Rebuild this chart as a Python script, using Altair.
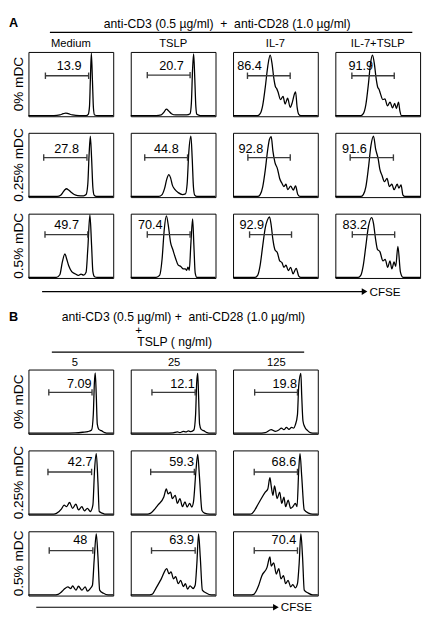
import math
import altair as alt
import pandas as pd

FONT = "Liberation Sans, Arial, sans-serif"
PW, PH = 87, 66
NB = "\u00a0"

# ---------------- text ----------------
TITLE_A = "anti-CD3 (0.5 µg/ml)" + NB + " +" + NB + " anti-CD28 (1.0 µg/ml)"
TITLE_B1 = "anti-CD3 (0.5 µg/ml) +" + NB + " anti-CD28 (1.0 µg/ml)"
TITLE_B2 = "+"
TITLE_B3 = "TSLP ( ng/ml)"
A_COLS = ["Medium", "TSLP", "IL-7", "IL-7+TSLP"]
B_COLS = ["5", "25", "125"]
ROW_LABELS = ["0% mDC", "0.25% mDC", "0.5% mDC"]
AXIS_NAME = "CFSE"

# ---------------- histograms (CFSE fraction of axis, relative count) ----------------
A0_MEDIUM = [(0, 0.01), (0.30, 0.01), (0.37, 0.02), (0.41, 0.04), (0.44, 0.05), (0.47, 0.04), (0.52, 0.02),
             (0.60, 0.01), (0.68, 0.01), (0.705, 0.03), (0.72, 0.15), (0.73, 0.55), (0.742, 0.98),
             (0.755, 0.55), (0.767, 0.12), (0.78, 0.02), (0.82, 0.01), (1, 0.01)]
A0_TSLP = [(0, 0.01), (0.30, 0.01), (0.36, 0.02), (0.39, 0.06), (0.42, 0.11), (0.45, 0.08), (0.48, 0.04),
           (0.53, 0.02), (0.66, 0.02), (0.70, 0.04), (0.715, 0.2), (0.73, 0.75), (0.742, 0.97),
           (0.755, 0.6), (0.768, 0.15), (0.78, 0.03), (0.82, 0.01), (1, 0.01)]
A0_IL7 = [(0, 0.01), (0.29, 0.01), (0.32, 0.04), (0.35, 0.17), (0.38, 0.45), (0.41, 0.78), (0.438, 0.95),
          (0.46, 0.82), (0.48, 0.6), (0.50, 0.46), (0.515, 0.43), (0.53, 0.38), (0.56, 0.26), (0.59, 0.31),
          (0.614, 0.19), (0.644, 0.28), (0.674, 0.14), (0.70, 0.22), (0.725, 0.35), (0.738, 0.38),
          (0.755, 0.15), (0.775, 0.03), (0.80, 0.01), (1, 0.01)]
A0_IL7TSLP = [(0, 0.01), (0.30, 0.01), (0.33, 0.04), (0.36, 0.18), (0.39, 0.5), (0.415, 0.82), (0.438, 0.95),
              (0.46, 0.82), (0.48, 0.6), (0.50, 0.45), (0.515, 0.42), (0.53, 0.36), (0.56, 0.26),
              (0.585, 0.27), (0.615, 0.16), (0.645, 0.22), (0.675, 0.13), (0.70, 0.20), (0.72, 0.12),
              (0.745, 0.22), (0.762, 0.08), (0.78, 0.01), (1, 0.01)]

A1_MEDIUM = [(0, 0.01), (0.34, 0.01), (0.38, 0.03), (0.41, 0.08), (0.43, 0.115), (0.45, 0.13), (0.47, 0.115),
             (0.50, 0.08), (0.54, 0.04), (0.58, 0.025), (0.65, 0.02), (0.68, 0.04), (0.70, 0.2),
             (0.715, 0.65), (0.73, 0.95), (0.745, 0.6), (0.76, 0.15), (0.775, 0.03), (0.80, 0.01), (1, 0.01)]
A1_TSLP = [(0, 0.01), (0.33, 0.01), (0.37, 0.04), (0.40, 0.14), (0.425, 0.28), (0.45, 0.35), (0.47, 0.30),
           (0.49, 0.19), (0.52, 0.12), (0.56, 0.07), (0.61, 0.04), (0.645, 0.05), (0.665, 0.2),
           (0.685, 0.7), (0.71, 0.95), (0.725, 0.6), (0.74, 0.15), (0.755, 0.03), (0.78, 0.01), (1, 0.01)]
A1_IL7 = [(0, 0.01), (0.29, 0.01), (0.32, 0.04), (0.35, 0.16), (0.38, 0.42), (0.41, 0.75), (0.43, 0.9),
          (0.45, 0.94), (0.47, 0.72), (0.494, 0.54), (0.524, 0.44), (0.55, 0.29), (0.577, 0.215),
          (0.60, 0.165), (0.625, 0.2), (0.644, 0.115), (0.68, 0.17), (0.71, 0.11), (0.738, 0.175),
          (0.764, 0.04), (0.79, 0.01), (1, 0.01)]
A1_IL7TSLP = [(0, 0.01), (0.30, 0.01), (0.33, 0.04), (0.36, 0.16), (0.39, 0.45), (0.42, 0.8), (0.45, 0.95),
              (0.475, 0.75), (0.506, 0.59), (0.524, 0.44), (0.55, 0.34), (0.58, 0.24), (0.61, 0.29),
              (0.637, 0.165), (0.667, 0.2), (0.693, 0.115), (0.73, 0.2), (0.749, 0.14), (0.775, 0.19),
              (0.798, 0.03), (0.82, 0.01), (1, 0.01)]

A2_MEDIUM = [(0, 0.01), (0.33, 0.01), (0.37, 0.05), (0.40, 0.25), (0.43, 0.375), (0.45, 0.30), (0.475, 0.19),
             (0.51, 0.10), (0.55, 0.065), (0.59, 0.04), (0.62, 0.06), (0.65, 0.045), (0.68, 0.09),
             (0.70, 0.45), (0.725, 0.98), (0.745, 0.5), (0.76, 0.1), (0.78, 0.02), (0.81, 0.01), (1, 0.01)]
A2_TSLP = [(0, 0.01), (0.30, 0.01), (0.34, 0.04), (0.37, 0.3), (0.395, 0.75), (0.42, 0.965), (0.445, 0.8),
           (0.47, 0.55), (0.494, 0.45), (0.53, 0.3), (0.56, 0.2), (0.59, 0.18), (0.62, 0.14), (0.644, 0.14),
           (0.66, 0.12), (0.675, 0.17), (0.69, 0.12), (0.71, 0.55), (0.73, 0.92), (0.745, 0.5),
           (0.76, 0.08), (0.78, 0.01), (1, 0.01)]
A2_IL7 = [(0, 0.01), (0.26, 0.01), (0.29, 0.04), (0.32, 0.2), (0.35, 0.5), (0.38, 0.78), (0.405, 0.9),
          (0.43, 0.95), (0.45, 0.82), (0.47, 0.6), (0.494, 0.44), (0.524, 0.39), (0.55, 0.265),
          (0.577, 0.24), (0.60, 0.165), (0.625, 0.2), (0.652, 0.115), (0.68, 0.165), (0.708, 0.065),
          (0.745, 0.15), (0.775, 0.03), (0.80, 0.01), (1, 0.01)]
A2_IL7TSLP = [(0, 0.01), (0.27, 0.01), (0.30, 0.04), (0.33, 0.2), (0.36, 0.5), (0.39, 0.8), (0.43, 0.94),
              (0.45, 0.85), (0.475, 0.6), (0.498, 0.44), (0.524, 0.415), (0.562, 0.265), (0.588, 0.29),
              (0.618, 0.165), (0.644, 0.265), (0.667, 0.14), (0.693, 0.25), (0.712, 0.18), (0.738, 0.49),
              (0.768, 0.09), (0.798, 0.01), (1, 0.01)]

B0_5 = [(0, 0.01), (0.40, 0.01), (0.55, 0.015), (0.64, 0.025), (0.70, 0.035), (0.745, 0.06), (0.765, 0.3),
        (0.778, 0.8), (0.788, 0.95), (0.80, 0.6), (0.812, 0.15), (0.83, 0.07), (0.86, 0.05), (0.90, 0.02),
        (0.94, 0.01), (1, 0.01)]
B0_25 = [(0, 0.01), (0.40, 0.01), (0.50, 0.015), (0.55, 0.03), (0.58, 0.02), (0.62, 0.04), (0.65, 0.03),
         (0.68, 0.045), (0.71, 0.035), (0.745, 0.06), (0.765, 0.3), (0.778, 0.8), (0.79, 0.94), (0.80, 0.6),
         (0.812, 0.15), (0.83, 0.07), (0.86, 0.05), (0.90, 0.02), (0.94, 0.01), (1, 0.01)]
B0_125 = [(0, 0.01), (0.30, 0.01), (0.38, 0.02), (0.45, 0.065), (0.50, 0.04), (0.54, 0.06), (0.57, 0.09),
          (0.60, 0.065), (0.63, 0.10), (0.66, 0.07), (0.69, 0.10), (0.715, 0.09), (0.735, 0.14),
          (0.76, 0.3), (0.775, 0.75), (0.80, 0.94), (0.81, 0.6), (0.825, 0.2), (0.845, 0.11), (0.88, 0.05),
          (0.92, 0.015), (0.96, 0.01), (1, 0.01)]

B1_5 = [(0, 0.01), (0.30, 0.01), (0.33, 0.02), (0.39, 0.09), (0.42, 0.15), (0.45, 0.125), (0.485, 0.19),
        (0.52, 0.10), (0.56, 0.165), (0.59, 0.075), (0.63, 0.125), (0.66, 0.06), (0.695, 0.10),
        (0.73, 0.05), (0.76, 0.15), (0.78, 0.7), (0.80, 0.95), (0.82, 0.5), (0.835, 0.05), (0.87, 0.025),
        (0.90, 0.01), (1, 0.01)]
B1_25 = [(0, 0.01), (0.20, 0.01), (0.23, 0.02), (0.32, 0.15), (0.39, 0.275), (0.42, 0.40), (0.44, 0.325),
         (0.47, 0.35), (0.49, 0.25), (0.525, 0.30), (0.55, 0.175), (0.58, 0.25), (0.61, 0.125), (0.64, 0.2),
         (0.665, 0.12), (0.695, 0.175), (0.72, 0.12), (0.74, 0.2), (0.77, 0.7), (0.79, 0.94), (0.81, 0.6),
         (0.84, 0.065), (0.87, 0.025), (0.93, 0.01), (1, 0.01)]
B1_125 = [(0, 0.01), (0.20, 0.01), (0.225, 0.02), (0.30, 0.175), (0.38, 0.35), (0.41, 0.40), (0.435, 0.575),
          (0.45, 0.45), (0.47, 0.30), (0.49, 0.45), (0.52, 0.25), (0.55, 0.35), (0.575, 0.175), (0.60, 0.275),
          (0.62, 0.125), (0.65, 0.225), (0.68, 0.10), (0.705, 0.125), (0.735, 0.175), (0.755, 0.125),
          (0.775, 0.7), (0.79, 0.95), (0.81, 0.6), (0.84, 0.075), (0.89, 0.025), (0.94, 0.01), (1, 0.01)]

B2_5 = [(0, 0.01), (0.30, 0.01), (0.35, 0.02), (0.40, 0.07), (0.43, 0.11), (0.465, 0.135), (0.50, 0.11),
        (0.52, 0.15), (0.56, 0.085), (0.59, 0.145), (0.63, 0.085), (0.67, 0.135), (0.695, 0.07),
        (0.73, 0.11), (0.755, 0.16), (0.775, 0.55), (0.80, 0.96), (0.82, 0.6), (0.84, 0.085),
        (0.885, 0.035), (0.94, 0.01), (1, 0.01)]
B2_25 = [(0, 0.01), (0.20, 0.01), (0.25, 0.02), (0.30, 0.12), (0.36, 0.26), (0.425, 0.42), (0.45, 0.34),
         (0.475, 0.37), (0.505, 0.26), (0.53, 0.295), (0.56, 0.185), (0.59, 0.235), (0.62, 0.14),
         (0.645, 0.185), (0.67, 0.10), (0.70, 0.15), (0.735, 0.11), (0.76, 0.16), (0.78, 0.5), (0.80, 0.96),
         (0.82, 0.6), (0.845, 0.085), (0.89, 0.04), (0.95, 0.01), (1, 0.01)]
B2_125 = [(0, 0.01), (0.20, 0.01), (0.245, 0.02), (0.30, 0.15), (0.34, 0.31), (0.40, 0.435), (0.435, 0.60),
          (0.45, 0.46), (0.48, 0.51), (0.51, 0.335), (0.54, 0.42), (0.565, 0.26), (0.595, 0.31),
          (0.62, 0.185), (0.65, 0.235), (0.68, 0.135), (0.705, 0.17), (0.735, 0.12), (0.76, 0.185),
          (0.78, 0.5), (0.80, 0.96), (0.82, 0.6), (0.84, 0.085), (0.885, 0.04), (0.94, 0.01), (1, 0.01)]

A_CURVES = [[A0_MEDIUM, A0_TSLP, A0_IL7, A0_IL7TSLP],
            [A1_MEDIUM, A1_TSLP, A1_IL7, A1_IL7TSLP],
            [A2_MEDIUM, A2_TSLP, A2_IL7, A2_IL7TSLP]]
B_CURVES = [[B0_5, B0_25, B0_125], [B1_5, B1_25, B1_125], [B2_5, B2_25, B2_125]]

# gates: (start, end, level)
A_GATES = [[(0.20, 0.71, 0.63), (0.195, 0.70, 0.64), (0.17, 0.674, 0.63), (0.195, 0.695, 0.63)],
           [(0.18, 0.69, 0.615), (0.165, 0.67, 0.615), (0.175, 0.675, 0.615), (0.175, 0.685, 0.615)],
           [(0.195, 0.70, 0.675), (0.195, 0.70, 0.675), (0.195, 0.69, 0.675), (0.20, 0.70, 0.675)]]
B_GATES = [[(0.24, 0.75, 0.645), (0.25, 0.76, 0.645), (0.255, 0.76, 0.645)],
           [(0.23, 0.745, 0.665), (0.235, 0.75, 0.665), (0.25, 0.76, 0.665)],
           [(0.245, 0.76, 0.70), (0.245, 0.76, 0.70), (0.25, 0.76, 0.70)]]
A_PCT = [["13.9", "20.7", "86.4", "91.9"], ["27.8", "44.8", "92.8", "91.6"], ["49.7", "70.4", "92.9", "83.2"]]
B_PCT = [["7.09", "12.1", "19.8"], ["42.7", "59.3", "68.6"], ["48", "63.9", "70.4"]]
A_PCT_POS = [[(0.48, 0.78), (0.48, 0.78), (0.195, 0.78), (0.30, 0.78)],
             [(0.45, 0.75), (0.42, 0.75), (0.21, 0.75), (0.225, 0.75)],
             [(0.45, 0.815), (0.23, 0.815), (0.22, 0.815), (0.23, 0.815)]]
B_PCT_POS = [[(0.60, 0.78), (0.61, 0.78), (0.61, 0.78)],
             [(0.61, 0.815), (0.60, 0.815), (0.60, 0.815)],
             [(0.61, 0.865), (0.60, 0.865), (0.60, 0.865)]]

# ---------------- helpers ----------------
XTICKS = sorted({round((d + math.log10(k)) / 4, 4) for d in range(4) for k in range(1, 10)} | {1.0})
YTICKS = [0.135, 0.27, 0.405, 0.54, 0.675, 0.81, 0.945]
ONE = alt.Data(values=[{}])
NOVIEW = alt.ViewBackground(stroke="transparent")


def deco_text(s, x, y, size, weight="normal", align="center", baseline="alphabetic", angle=0):
    return alt.Chart(ONE).mark_text(text=s, font=FONT, fontSize=size, fontWeight=weight, align=align,
                                    baseline=baseline, angle=angle, color="black").encode(
        x=alt.value(x), y=alt.value(y))


def deco_line(x1, x2, y, w=1.3):
    return alt.Chart(ONE).mark_rule(color="black", strokeWidth=w).encode(
        x=alt.value(x1), x2=alt.value(x2), y=alt.value(y))


def deco_arrow(x1, x2, y):
    head = alt.Chart(ONE).mark_point(shape="triangle-right", filled=True, size=45, color="black",
                                     opacity=1, strokeWidth=0).encode(x=alt.value(x2 + 2), y=alt.value(y))
    label = deco_text(AXIS_NAME, x2 + 7, y, 12, align="left", baseline="middle")
    return [deco_line(x1, x2, y, 1.2), head, label]


def panel(curve, gate, pct, pos, col_title=None, col_dx=0, col_y=-5, row_title=None, extra=()):
    xs = alt.Scale(domain=[0, 1], nice=False, zero=False)
    ys = alt.Scale(domain=[0, 1], nice=False, zero=False)
    xax = alt.Axis(values=XTICKS, labels=False, domain=False, grid=False, tickSize=2, tickColor="black",
                   tickWidth=0.8, title=None)
    yax = alt.Axis(values=YTICKS, labels=False, domain=False, grid=False, tickSize=2.5, tickColor="black",
                   tickWidth=0.8, title=None)
    df = pd.DataFrame(curve, columns=["cfse", "count"])
    line = alt.Chart(df).mark_line(color="black", strokeWidth=1.3, interpolate="monotone").encode(
        x=alt.X("cfse:Q", scale=xs, axis=xax), y=alt.Y("count:Q", scale=ys, axis=yax))
    gdf = pd.DataFrame({"lo": [gate[0]], "hi": [gate[1]], "g": [gate[2]]})
    bar = alt.Chart(gdf).mark_rule(color="#3a3a3a", strokeWidth=1.4).encode(
        x=alt.X("lo:Q", scale=xs, axis=None), x2="hi:Q", y=alt.Y("g:Q", scale=ys, axis=None))
    cdf = pd.DataFrame({"e": [gate[0], gate[1]], "g1": [gate[2] - 0.05] * 2, "g2": [gate[2] + 0.05] * 2})
    caps = alt.Chart(cdf).mark_rule(color="#3a3a3a", strokeWidth=1.4).encode(
        x=alt.X("e:Q", scale=xs, axis=None), y=alt.Y("g1:Q", scale=ys, axis=None), y2="g2:Q")
    tdf = pd.DataFrame({"lx": [pos[0]], "ly": [pos[1]], "t": [pct]})
    txt = alt.Chart(tdf).mark_text(font=FONT, fontSize=13, color="black", baseline="middle").encode(
        x=alt.X("lx:Q", scale=xs, axis=None), y=alt.Y("ly:Q", scale=ys, axis=None), text="t:N")
    layers = [line, bar, caps, txt]
    if col_title:
        layers.append(deco_text(col_title, PW / 2 + col_dx, col_y, 11.5))
    if row_title:
        layers.append(deco_text(row_title, -6, PH / 2, 14, angle=270))
    layers += list(extra)
    return alt.layer(*layers).properties(width=PW, height=PH,
                                        view=alt.ViewBackground(stroke="black", strokeWidth=1))


def blank(h, extra=()):
    base = alt.Chart(ONE).mark_text(text="").encode(x=alt.value(0), y=alt.value(0))
    return alt.layer(base, *extra).properties(width=PW, height=h, view=NOVIEW)


cells = []
# Panel A
header_a = [deco_text("A", -20, -26, 13, weight="bold", align="left"),
            deco_text(TITLE_A, 204, -25, 12.5),
            deco_line(22, 394, -20)]
for r in range(3):
    for c in range(4):
        cells.append(panel(A_CURVES[r][c], A_GATES[r][c], A_PCT[r][c], A_PCT_POS[r][c],
                           col_title=A_COLS[c] if r == 0 else None, col_y=-5,
                           row_title=ROW_LABELS[r] if c == 0 else None,
                           extra=header_a if (r == 0 and c == 0) else ()))

# spacer row: CFSE arrow for A and header of B
SP = 60
mid = deco_arrow(14, 343, -3) + [
    deco_text("B", -20, 27, 13, weight="bold", align="left"),
    deco_text(TITLE_B1, 159, 27, 12.5),
    deco_text(TITLE_B2, 113, 36, 12, baseline="middle"),
    deco_text(TITLE_B3, 150, 53, 12.5),
    deco_line(24, 283, 59),
]
cells.append(blank(SP, mid))
cells += [blank(SP) for _ in range(3)]

# Panel B
B_DX = [4, 1, 1]
for r in range(3):
    for c in range(3):
        cells.append(panel(B_CURVES[r][c], B_GATES[r][c], B_PCT[r][c], B_PCT_POS[r][c],
                           col_title=B_COLS[c] if r == 0 else None, col_dx=B_DX[c], col_y=-4,
                           row_title=ROW_LABELS[r] if c == 0 else None,
                           extra=deco_arrow(8, 252, PH + 12) if (r == 2 and c == 0) else ()))
    cells.append(blank(PH))

chart = alt.concat(*cells, columns=4, spacing=alt.RowColnumber(row=17, column=18), bounds="flush",
                   align="each").properties(padding=0).configure_view(stroke="transparent")

chart.save("out.html", embed_options={"renderer": "svg", "actions": False})
